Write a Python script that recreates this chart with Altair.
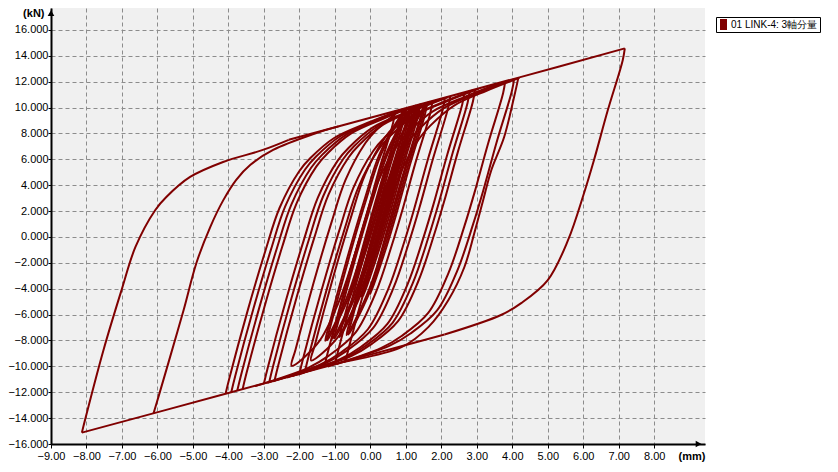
import altair as alt
import pandas as pd

series_name = "01 LINK-4: 3軸分量"
line_color = "#800000"

x_ticks = [-9, -8, -7, -6, -5, -4, -3, -2, -1, 0, 1, 2, 3, 4, 5, 6, 7, 8]
y_ticks = [-16, -14, -12, -10, -8, -6, -4, -2, 0, 2, 4, 6, 8, 10, 12, 14, 16]
x_domain = [-9, 9.43]
y_domain = [-16, 17.7]

# envelopes
env_lower_x = [-8.13, -4.08, 0.00, 2.09]
env_lower_y = [-15.12, -12.12, -9.09, -7.54]
env_upper_x = [-2.30, 0.00, 4.20, 7.17]
env_upper_y = [7.51, 9.22, 12.34, 14.58]

# outer loop
big_up_x = [-8.13, -8.02, -7.52, -7.01, -6.62, -6.06, -5.75, -5.08, -4.15, -3.03, -2.30]
big_up_y = [-15.12, -13.91, -8.73, -4.09, -0.77, 2.09, 3.09, 4.64, 5.80, 6.73, 7.51]
big_down_x = [7.17, 7.11, 6.69, 6.30, 6.02, 5.57, 5.00, 4.25, 3.68, 2.09]
big_down_y = [14.58, 13.65, 9.79, 5.93, 3.38, -0.25, -3.33, -5.11, -6.03, -7.54]

# second loop rising branch
loop2_up_x = [-6.11, -5.97, -5.69, -5.26, -4.90, -4.51, -4.14, -3.78, -3.38, -2.74, -1.60, -0.90]
loop2_up_y = [-13.62, -12.34, -9.71, -5.62, -1.99, 0.79, 2.87, 4.42, 5.58, 6.73, 7.96, 8.55]

# rising branches from the lower envelope
rise_x = [
    [-4.08, -3.97, -3.46, -2.96, -2.56, -2.00, -1.69, -1.02, -0.09, 0.82],
    [-3.92, -3.81, -3.30, -2.80, -2.40, -1.84, -1.53, -0.86, 0.07, 0.98],
    [-3.75, -3.64, -3.13, -2.63, -2.23, -1.67, -1.36, -0.69, 0.24, 1.15],
    [-3.60, -3.49, -2.98, -2.48, -2.08, -1.52, -1.21, -0.54, 0.39, 1.30],
    [-3.00, -2.89, -2.38, -1.88, -1.48, -0.92, -0.61, 0.06, 0.99, 1.90],
    [-2.85, -2.74, -2.23, -1.73, -1.33, -0.77, -0.46, 0.21, 1.14, 2.05],
    [-2.70, -2.59, -2.08, -1.58, -1.18, -0.62, -0.31, 0.36, 1.29, 2.20],
    [-2.00, -1.89, -1.38, -0.88, -0.48, 0.08, 0.39, 1.06, 1.99, 2.90],
    [-1.85, -1.74, -1.23, -0.73, -0.33, 0.23, 0.54, 1.21, 2.14, 3.05],
    [-1.30, -1.19, -0.68, -0.18, 0.22, 0.78, 1.09, 1.76, 2.69, 3.60],
    [-1.00, -0.89, -0.38, 0.12, 0.52, 1.08, 1.39, 2.06, 2.99, 3.90],
    [-0.70, -0.59, -0.08, 0.42, 0.82, 1.38, 1.69, 2.36, 3.29, 4.20],
]
rise_y = [
    [-12.12, -10.88, -5.71, -1.08, 2.24, 5.10, 6.10, 7.65, 8.81, 9.79],
    [-12.00, -10.76, -5.59, -0.96, 2.36, 5.22, 6.22, 7.77, 8.93, 9.91],
    [-11.87, -10.63, -5.46, -0.83, 2.49, 5.35, 6.35, 7.90, 9.06, 10.04],
    [-11.76, -10.52, -5.35, -0.72, 2.60, 5.46, 6.46, 8.01, 9.17, 10.15],
    [-11.32, -10.08, -4.91, -0.28, 3.04, 5.90, 6.90, 8.45, 9.61, 10.59],
    [-11.21, -9.97, -4.80, -0.17, 3.15, 6.01, 7.01, 8.56, 9.72, 10.70],
    [-11.09, -9.85, -4.68, -0.05, 3.27, 6.13, 7.13, 8.68, 9.84, 10.82],
    [-10.57, -9.33, -4.16, 0.47, 3.79, 6.65, 7.65, 9.20, 10.36, 11.34],
    [-10.46, -9.22, -4.05, 0.58, 3.90, 6.76, 7.76, 9.31, 10.47, 11.45],
    [-10.06, -8.82, -3.65, 0.98, 4.30, 7.16, 8.16, 9.71, 10.87, 11.85],
    [-9.83, -8.59, -3.42, 1.21, 4.53, 7.39, 8.39, 9.94, 11.10, 12.08],
    [-9.61, -8.37, -3.20, 1.43, 4.75, 7.61, 8.61, 10.16, 11.32, 12.30],
]

# falling branches from the upper envelope
fall_x = [
    [4.17, 4.05, 3.77, 3.41, 3.18, 2.93, 2.65, 2.20, 1.64, 0.89, -0.80],
    [4.05, 3.99, 3.57, 3.18, 2.90, 2.45, 1.88, 1.13, 0.56, -0.95],
    [3.80, 3.74, 3.32, 2.93, 2.65, 2.20, 1.63, 0.88, 0.31, -1.20],
    [2.95, 2.89, 2.47, 2.08, 1.80, 1.35, 0.78, 0.03, -0.54, -2.05],
    [2.80, 2.74, 2.32, 1.93, 1.65, 1.20, 0.63, -0.12, -0.69, -2.20],
    [2.65, 2.59, 2.17, 1.78, 1.50, 1.05, 0.48, -0.27, -0.84, -2.35],
    [2.25, 2.19, 1.77, 1.38, 1.10, 0.65, 0.08, -0.67, -1.24, -2.75],
    [2.10, 2.04, 1.62, 1.23, 0.95, 0.50, -0.07, -0.82, -1.39, -2.90],
    [1.75, 1.69, 1.27, 0.88, 0.60, 0.15, -0.42, -1.17, -1.74, -3.25],
]
fall_y = [
    [12.30, 10.82, 7.73, 5.18, 2.86, 0.31, -2.32, -4.87, -6.95, -8.50, -9.68],
    [12.23, 11.30, 7.44, 3.58, 1.03, -2.60, -5.68, -7.46, -8.38, -9.82],
    [12.04, 11.11, 7.25, 3.39, 0.84, -2.79, -5.87, -7.65, -8.57, -10.01],
    [11.41, 10.48, 6.62, 2.76, 0.21, -3.42, -6.50, -8.28, -9.20, -10.64],
    [11.30, 10.37, 6.51, 2.65, 0.10, -3.53, -6.61, -8.39, -9.31, -10.75],
    [11.19, 10.26, 6.40, 2.54, -0.01, -3.64, -6.72, -8.50, -9.42, -10.86],
    [10.89, 9.96, 6.10, 2.24, -0.31, -3.94, -7.02, -8.80, -9.72, -11.16],
    [10.78, 9.85, 5.99, 2.13, -0.42, -4.05, -7.13, -8.91, -9.83, -11.27],
    [10.52, 9.59, 5.73, 1.87, -0.68, -4.31, -7.39, -9.17, -10.09, -11.53],
]

# small central loops (down then up)
core_x = [
    [0.90, 0.84, 0.42, 0.03, -0.25, -0.70, -1.27, -1.16, -0.65, -0.15, 0.25, 0.81, 1.05],
    [1.00, 0.94, 0.52, 0.13, -0.15, -0.60, -0.49, 0.02, 0.52, 0.92, 1.05],
    [1.10, 1.04, 0.62, 0.23, -0.05, -0.50, -1.07, -0.96, -0.45, 0.05, 0.45, 1.01, 1.25],
    [1.20, 1.14, 0.72, 0.33, 0.05, -0.40, -0.29, 0.22, 0.72, 1.12, 1.25],
    [1.30, 1.24, 0.82, 0.43, 0.15, -0.30, -0.87, -0.76, -0.25, 0.25, 0.65, 1.21, 1.45],
    [1.40, 1.34, 0.92, 0.53, 0.25, -0.20, -0.09, 0.42, 0.92, 1.32, 1.45],
    [1.50, 1.44, 1.02, 0.63, 0.35, -0.10, -0.67, -0.56, -0.05, 0.45, 0.85, 1.41, 1.65],
    [1.60, 1.54, 1.12, 0.73, 0.45, 0.00, 0.11, 0.62, 1.12, 1.52, 1.65],
    [0.70, 0.64, 0.22, -0.17, -0.45, -0.90, -1.47, -2.22, -2.11, -1.60, -1.10, -0.70, -0.14, 0.17, 0.84],
    [1.25, 1.19, 0.77, 0.38, 0.10, -0.35, -0.92, -1.67, -1.56, -1.05, -0.55, -0.15, 0.41, 0.72, 1.39],
    [0.95, 0.89, 0.47, 0.08, -0.20, -0.65, -1.22, -1.11, -0.60, -0.10, 0.30, 0.86, 1.10],
    [1.35, 1.29, 0.87, 0.48, 0.20, -0.25, -0.14, 0.37, 0.87, 1.27, 1.40],
    [1.15, 1.09, 0.67, 0.28, 0.00, -0.45, -1.02, -0.91, -0.40, 0.10, 0.50, 1.06, 1.30],
    [1.55, 1.49, 1.07, 0.68, 0.40, -0.05, -0.62, -0.51, 0.00, 0.50, 0.90, 1.46, 1.70],
]
core_y = [
    [9.89, 8.96, 5.10, 1.24, -1.31, -4.94, -8.02, -6.78, -1.61, 3.02, 6.34, 9.20, 10.00],
    [9.96, 9.03, 5.17, 1.31, -1.24, -4.87, -3.63, 1.54, 6.17, 9.49, 10.00],
    [10.04, 9.11, 5.25, 1.39, -1.16, -4.79, -7.87, -6.63, -1.46, 3.17, 6.49, 9.35, 10.15],
    [10.11, 9.18, 5.32, 1.46, -1.09, -4.72, -3.48, 1.69, 6.32, 9.64, 10.15],
    [10.18, 9.25, 5.39, 1.53, -1.02, -4.65, -7.73, -6.49, -1.32, 3.31, 6.63, 9.49, 10.30],
    [10.26, 9.33, 5.47, 1.61, -0.94, -4.57, -3.33, 1.84, 6.47, 9.79, 10.30],
    [10.33, 9.40, 5.54, 1.68, -0.87, -4.50, -7.58, -6.34, -1.17, 3.46, 6.78, 9.64, 10.44],
    [10.41, 9.48, 5.62, 1.76, -0.79, -4.42, -3.18, 1.99, 6.62, 9.94, 10.44],
    [9.74, 8.81, 4.95, 1.09, -1.46, -5.09, -8.17, -9.95, -8.71, -3.54, 1.09, 4.41, 7.27, 8.27, 9.82],
    [10.15, 9.22, 5.36, 1.50, -1.05, -4.68, -7.76, -9.54, -8.30, -3.13, 1.50, 4.82, 7.68, 8.68, 10.23],
    [9.92, 8.99, 5.13, 1.27, -1.28, -4.91, -7.99, -6.75, -1.58, 3.05, 6.37, 9.23, 10.04],
    [10.22, 9.29, 5.43, 1.57, -0.98, -4.61, -3.37, 1.80, 6.43, 9.75, 10.26],
    [10.07, 9.14, 5.28, 1.42, -1.13, -4.76, -7.84, -6.60, -1.43, 3.20, 6.52, 9.38, 10.18],
    [10.37, 9.44, 5.58, 1.72, -0.83, -4.46, -7.54, -6.30, -1.13, 3.50, 6.82, 9.68, 10.48],
]

# axis arrow heads (at the ends of the axes)
arrow_up = {"x": [-9.0], "y": [17.3]}
arrow_right = {"x": [9.25], "y": [-16.0]}
# legend key (placed outside the visible domain, clipped away)
legend_key = {"x": [50.0], "y": [50.0], "series": [series_name]}

# ---- build table ----
paths = [
    (env_lower_x, env_lower_y),
    (env_upper_x, env_upper_y),
    (big_up_x, big_up_y),
    (big_down_x, big_down_y),
    (loop2_up_x, loop2_up_y),
]
paths += list(zip(rise_x, rise_y))
paths += list(zip(fall_x, fall_y))
paths += list(zip(core_x, core_y))

rows = []
for pid, (xs, ys) in enumerate(paths):
    for i, (xv, yv) in enumerate(zip(xs, ys)):
        rows.append({"branch": pid, "i": i, "x": xv, "y": yv, "series": series_name})
df = pd.DataFrame(rows)

FONT = "Liberation Sans"
PAD_LEFT = 43
PLOT_W = 654
PLOT_H = 436

x_scale = alt.Scale(domain=x_domain, nice=False, zero=False)
y_scale = alt.Scale(domain=y_domain, nice=False, zero=False)

x_axis = alt.Axis(
    values=x_ticks, format=".2f", title="(mm)", titleX=PLOT_W, titleY=12,
    titleAlign="right", titleBaseline="middle", titleFontWeight="bold",
    titleFontSize=11, titleFont=FONT, titleColor="black", labelFont=FONT,
    labelFontSize=11, labelColor="black", tickColor="black", tickSize=4,
    labelPadding=2, domainColor="black", domainWidth=2, grid=True,
    gridColor="#8c8c8c", gridDash=[4, 3], gridWidth=1, labelFlush=False,
    labelOverlap=False,
)
y_axis = alt.Axis(
    values=y_ticks, format=".3f", title="(kN)", titleAngle=0, titleX=-7,
    titleY=5, titleAlign="right", titleBaseline="middle",
    titleFontWeight="bold", titleFontSize=11, titleFont=FONT, titleColor="black",
    labelFont=FONT, labelFontSize=11, labelColor="black", tickColor="black",
    tickSize=3, labelPadding=0, domainColor="black", domainWidth=2, grid=True,
    gridColor="#8c8c8c", gridDash=[4, 3], gridWidth=1, labelFlush=False,
    labelOverlap=False,
)


def xe():
    return alt.X("x:Q", scale=x_scale, axis=x_axis)


def ye():
    return alt.Y("y:Q", scale=y_scale, axis=y_axis)


lines = alt.Chart(df).mark_line(clip=True, interpolate="catmull-rom").encode(
    x=xe(),
    y=ye(),
    color=alt.Color("series:N", scale=alt.Scale(range=[line_color]), legend=None),
    detail="branch:N",
    order="i:Q",
)

key_shape = "M-0.64,-1H0.64V1H-0.64Z"
legend_layer = alt.Chart(pd.DataFrame(legend_key)).mark_point(
    shape=key_shape, filled=True, opacity=1, clip=True, size=121
).encode(
    x=xe(),
    y=ye(),
    color=alt.Color(
        "series:N",
        scale=alt.Scale(range=[line_color]),
        legend=alt.Legend(
            title=None, orient="none", legendX=716 - 8 - PAD_LEFT, legendY=9,
            symbolType=key_shape, symbolSize=121, symbolStrokeWidth=0,
            symbolOpacity=1, labelFont=FONT, labelFontSize=10,
            labelColor="black", strokeColor="black", fillColor="white",
            padding=2, labelOffset=2, cornerRadius=0,
        ),
    ),
)

up_head = alt.Chart(pd.DataFrame(arrow_up)).mark_point(
    shape="triangle-up", filled=True, color="black", size=45, opacity=1, clip=False
).encode(x=xe(), y=ye())
right_head = alt.Chart(pd.DataFrame(arrow_right)).mark_point(
    shape="triangle-right", filled=True, color="black", size=45, opacity=1, clip=False
).encode(x=xe(), y=ye())

chart = (
    alt.layer(lines, legend_layer, up_head, right_head)
    .resolve_scale(color="independent")
    .resolve_legend(color="independent")
    .properties(
        width=PLOT_W,
        height=PLOT_H,
        padding={"left": PAD_LEFT, "top": 0, "right": 125, "bottom": 20},
        autosize=alt.AutoSizeParams(type="none"),
        background="white",
    )
    .configure_view(fill="#f0f0f0", stroke=None)
    .configure_line(strokeWidth=2)
    .configure_axis(labelOverlap=False)
)

chart.save("out.html", embed_options={"renderer": "svg", "actions": False})
